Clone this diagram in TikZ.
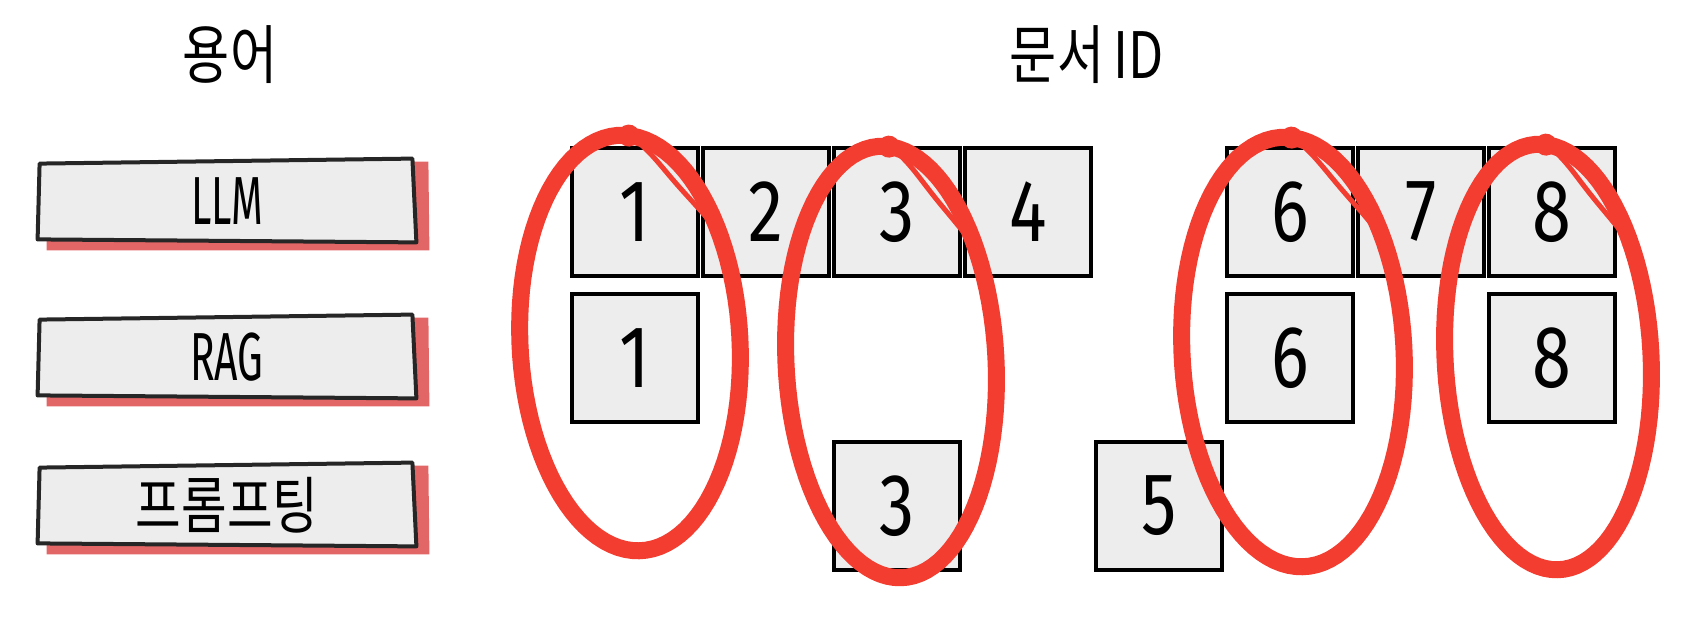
\documentclass[tikz,border=0pt]{standalone}
\usepackage{fontspec}
\usetikzlibrary{backgrounds}
\newfontfamily\krfont[FakeStretch=0.8]{Noto Sans CJK KR}
\newfontfamily\numfont[FakeStretch=0.8]{Fira Sans}
\newfontfamily\termfont[FakeStretch=0.6]{Fira Sans}
\begin{document}
\begin{tikzpicture}[x=0.5pt, y=-0.5pt,
    title/.style={inner sep=0pt, font=\krfont\fontsize{32}{32}\selectfont},
    docid/.style={draw, line width=1.7pt, fill=box-gray, minimum width=63pt, minimum height=64pt, inner sep=0pt, font=\numfont\fontsize{44}{44}\selectfont},
    termbox/.style={minimum width=189pt, minimum height=41pt, inner sep=0pt, font=\termfont\fontsize{34}{34}\selectfont},
    termline/.style={draw=black!85, line width=2pt, line join=round, fill=box-gray},
    ring/.style={draw=ring-red, line width=8.5pt, line cap=round, line join=round}]
    \definecolor{box-gray}{rgb}{0.93,0.93,0.93}
    \definecolor{ring-red}{rgb}{0.95,0.24,0.19}
    \definecolor{shade-red}{rgb}{0.89,0.40,0.40}
    \def\termrow#1#2#3{%
      \node[termbox] (#1) at (227,#2) {#3};
      \begin{scope}[on background layer]
        \fill[shade-red] ([shift={(9,5)}]#1.north west) -- ([shift={(12,2)}]#1.north east) -- ([shift={(13,8)}]#1.south east) -- ([shift={(9,8)}]#1.south west) -- cycle;
        \draw[termline] ([shift={(2,4)}]#1.north west) -- ([shift={(-4,-1)}]#1.north east) -- (#1.south east) -- ([shift={(0,-3)}]#1.south west) -- cycle;
      \end{scope}
    }
    \def\ring#1#2#3#4{%
      \begin{scope}[rotate around={3:(#1,#2)}]
        \draw[ring] plot[domain=0:360, samples=100] ({#1+#3*cos(\x)}, {#2+#4*sin(\x)}) -- cycle;
        \draw[ring, line width=2.5pt] plot[domain=-85:-30, samples=30] ({#1+(#3-16*sin((\x+85)*180/55))*cos(\x)}, {#2+(#4-16*sin((\x+85)*180/55))*sin(\x)});
        \fill[ring-red] ({#1+#3*cos(-85)}, {#2+#4*sin(-85)}) circle (5.5pt);
      \end{scope}
    }
    \useasboundingbox (0,0) rectangle (1696,624);
    % headings
    \node[title] (hterm) at (230,55) {용어};
    \node[title] (hdoc) at (1087,55) {문서\hspace{0.15em}ID};
    % terms
    \termrow{llm}{201}{LLM}
    \termrow{rag}{357}{RAG}
    \termrow{prompt}{505}{\krfont\fontsize{31}{31}\selectfont 프롬프팅}
    % document ids
    \foreach \n/\k in {1/0,2/1,3/2,4/3,6/5,7/6,8/7}
      \node[docid] (top\n) at ({635+131*\k},212) {\n};
    \foreach \n/\k in {1/0,6/5,8/7}
      \node[docid] (mid\n) at ({635+131*\k},358) {\n};
    \foreach \n/\k in {3/2,5/4}
      \node[docid] (low\n) at ({635+131*\k},506) {\n};
    % marks
    \ring{630}{343}{110}{208}
    \ring{891}{362}{105}{216}
    \ring{1293}{352}{111}{215}
    \ring{1548}{357}{103}{213}
  \end{tikzpicture}
\end{document}
